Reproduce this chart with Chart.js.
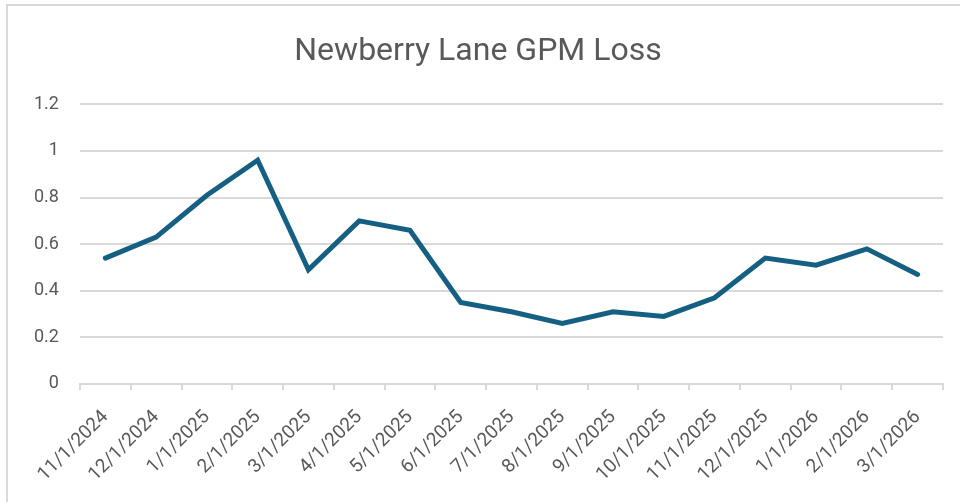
<!DOCTYPE html>
<html>
<head>
<meta charset="utf-8">
<script src="https://cdn.jsdelivr.net/npm/chart.js@4"></script>
<style>
    html, body { margin: 0; padding: 0; background: #fff; }
    #frame {
        position: absolute; left: 6px; top: 4px; width: 954px; height: 498px;
        border-top: 2px solid #d9d9d9; border-left: 2px solid #d9d9d9;
        box-sizing: border-box;
    }
    #wrap { position: absolute; left: 0; top: 0; width: 960px; height: 502px; }
</style>
</head>
<body>
<div id="frame"></div>
<div id="wrap"><canvas id="lossChart"></canvas></div>
<script>
// Datos del gráfico
const fechas = ['11/1/2024', '12/1/2024', '1/1/2025', '2/1/2025', '3/1/2025', '4/1/2025',
    '5/1/2025', '6/1/2025', '7/1/2025', '8/1/2025', '9/1/2025', '10/1/2025',
    '11/1/2025', '12/1/2025', '1/1/2026', '2/1/2026', '3/1/2026'];
const perdidaGpm = [0.54, 0.63, 0.81, 0.96, 0.49, 0.70, 0.66, 0.35, 0.31, 0.26,
    0.31, 0.29, 0.37, 0.54, 0.51, 0.58, 0.47];
const ticksY = [0, 0.2, 0.4, 0.6, 0.8, 1, 1.2];

const textColor = '#595959';
const gridColor = '#d9d9d9';
const fontFamily = 'Roboto, "Liberation Sans", sans-serif';

const ctx = document.getElementById('lossChart').getContext('2d');
new Chart(ctx, {
    type: 'line',
    data: {
        labels: fechas,
        datasets: [{
            label: 'GPM Loss',
            data: perdidaGpm,
            borderColor: '#156082',
            borderWidth: 5,
            pointRadius: 0,
            tension: 0,
            borderCapStyle: 'round',
            borderJoinStyle: 'miter'
        }]
    },
    options: {
        responsive: true,
        maintainAspectRatio: false,
        animation: false,
        layout: {
            padding: { left: 13, right: 17, top: 33, bottom: 0 }
        },
        plugins: {
            legend: { display: false },
            tooltip: { enabled: false },
            title: {
                display: true,
                text: 'Newberry Lane GPM Loss',
                color: textColor,
                font: { family: fontFamily, size: 32, weight: 'normal' },
                padding: { top: 0, bottom: 33 }
            }
        },
        scales: {
            x: {
                offset: true,
                grid: {
                    offset: true,
                    drawOnChartArea: false,
                    drawTicks: true,
                    tickLength: 6,
                    color: gridColor,
                    lineWidth: 2
                },
                border: { color: gridColor, width: 2 },
                ticks: {
                    color: textColor,
                    font: { family: fontFamily, size: 19 },
                    maxRotation: 45,
                    minRotation: 45,
                    autoSkip: false,
                    padding: 16
                }
            },
            y: {
                min: 0,
                max: 1.2,
                afterBuildTicks: axis => {
                    axis.ticks = ticksY.map(v => ({ value: v }));
                },
                grid: {
                    color: gridColor,
                    lineWidth: 2,
                    drawTicks: false
                },
                border: { display: false },
                ticks: {
                    color: textColor,
                    font: { family: fontFamily, size: 18 },
                    padding: 21,
                    callback: v => String(v)
                }
            }
        }
    }
});
</script>
</body>
</html>
